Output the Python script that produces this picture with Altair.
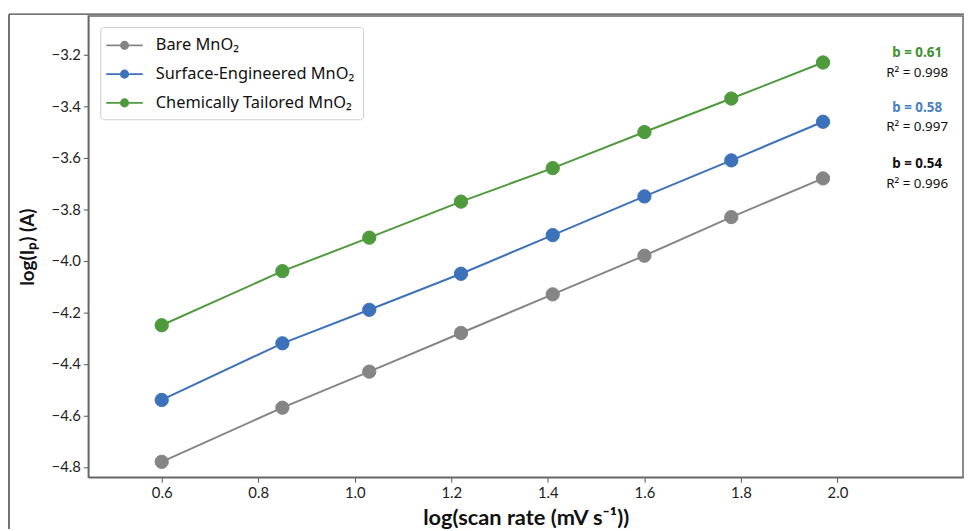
import altair as alt
import pandas as pd

# ---- data ----
log_scan = [0.60, 0.85, 1.03, 1.22, 1.41, 1.60, 1.78, 1.97]
bare = [-4.78, -4.57, -4.43, -4.28, -4.13, -3.98, -3.83, -3.68]
surface = [-4.54, -4.32, -4.19, -4.05, -3.90, -3.75, -3.61, -3.46]
chemical = [-4.25, -4.04, -3.91, -3.77, -3.64, -3.50, -3.37, -3.23]

series_names = ["Bare MnO₂", "Surface-Engineered MnO₂", "Chemically Tailored MnO₂"]
series_colors = ["#858585", "#3d72ba", "#4e9a3c"]

b_labels = ["b = 0.54", "b = 0.58", "b = 0.61"]
r2_labels = ["R² = 0.996", "R² = 0.997", "R² = 0.998"]
b_colors = ["#111111", "#4a80c2", "#3f9230"]
ann_x = [2.165, 2.165, 2.165]
b_y = [-3.625, -3.405, -3.195]
r2_y = [-3.702, -3.482, -3.272]

x_ticks = [0.6, 0.8, 1.0, 1.2, 1.4, 1.6, 1.8, 2.0]
y_ticks = [-4.8, -4.6, -4.4, -4.2, -4.0, -3.8, -3.6, -3.4, -3.2]

rows = []
for name, vals in zip(series_names, [bare, surface, chemical]):
    for xv, yv in zip(log_scan, vals):
        rows.append({"series": name, "x": xv, "y": yv})
df = pd.DataFrame(rows)

ann = pd.DataFrame({
    "x": ann_x, "by": b_y, "ry": r2_y,
    "b": b_labels, "r2": r2_labels, "bc": b_colors,
})

FONT = "Lato"
FONT2 = "Noto Sans"
W, H = 882, 465

xs = alt.Scale(domain=[0.448, 2.26], nice=False, zero=False)
ys = alt.Scale(domain=[-4.84, -3.05], nice=False, zero=False)
cs = alt.Scale(domain=series_names, range=series_colors)

sym_path = ("M-2,0L-0.5,0M0.5,0L2,0"
            "M-0.4,0A0.4,0.4,0,1,0,0.4,0A0.4,0.4,0,1,0,-0.4,0Z")

legend = alt.Legend(
    title=None, orient="none", legendX=12, legendY=11,
    symbolType=sym_path, symbolSize=340, symbolStrokeWidth=1.8,
    symbolOffset=6, labelOffset=21, labelLimit=500,
    labelFont=FONT2, labelFontSize=16.5, labelColor="#111",
    rowPadding=10, padding=8, strokeColor="#cccccc", fillColor="white",
    cornerRadius=3,
)

x_enc = alt.X("x:Q", scale=xs, axis=alt.Axis(
    title="log(scan rate (mV s⁻¹))", values=x_ticks, format=".1f",
    grid=False, domainColor="#666", domainWidth=1.5, tickColor="#555",
    tickSize=5, labelPadding=3, labelFont=FONT, labelFontSize=15,
    labelColor="#222", titleFont=FONT, titleFontSize=22, titleFontWeight="bold",
    titleColor="#111", titlePadding=8))
y_enc = alt.Y("y:Q", scale=ys, axis=alt.Axis(
    title="log(Iₚ) (A)", values=y_ticks, format=".1f",
    grid=False, domainColor="#666", domainWidth=1.5, tickColor="#555",
    tickSize=5, labelPadding=3, labelFont=FONT, labelFontSize=15,
    labelColor="#222", titleFont=FONT, titleFontSize=19, titleFontWeight="bold",
    titleColor="#111", titlePadding=14))

base = alt.Chart(df)
lines = base.mark_line(strokeWidth=2).encode(
    x=x_enc, y=y_enc,
    stroke=alt.Stroke("series:N", scale=cs, legend=legend),
    detail="series:N",
)
points = base.mark_point(filled=True, size=180, opacity=1, strokeWidth=1).encode(
    x="x:Q", y="y:Q",
    fill=alt.Fill("series:N", scale=cs, legend=legend),
    stroke=alt.Stroke("series:N", scale=cs, legend=legend),
)

b_text = alt.Chart(ann).mark_text(font=FONT2, fontSize=13.5, fontWeight="bold",
                                  align="center", baseline="middle").encode(
    x="x:Q", y="by:Q", text="b:N", color=alt.Color("bc:N", scale=None))
r_text = alt.Chart(ann).mark_text(font=FONT2, fontSize=13.5, color="#111",
                                  align="center", baseline="middle").encode(
    x="x:Q", y="ry:Q", text="r2:N")

frame_left = alt.Chart().mark_rule(color="#444", strokeWidth=1.5).encode(
    x=alt.value(-80), y=alt.value(-2), y2=alt.value(H + 60))
frame_top = alt.Chart().mark_rule(color="#444", strokeWidth=1.5).encode(
    x=alt.value(-80), x2=alt.value(W + 10), y=alt.value(-2))

chart = alt.layer(frame_left, frame_top, lines, points, b_text, r_text).properties(
    width=W, height=H,
    autosize=alt.AutoSizeParams(type="none"),
    padding={"left": 81, "top": 6, "right": 1, "bottom": 50},
    background="white",
).configure_view(stroke="#666", strokeWidth=1.5)

chart.save("out.html", embed_options={"renderer": "svg", "actions": False})
